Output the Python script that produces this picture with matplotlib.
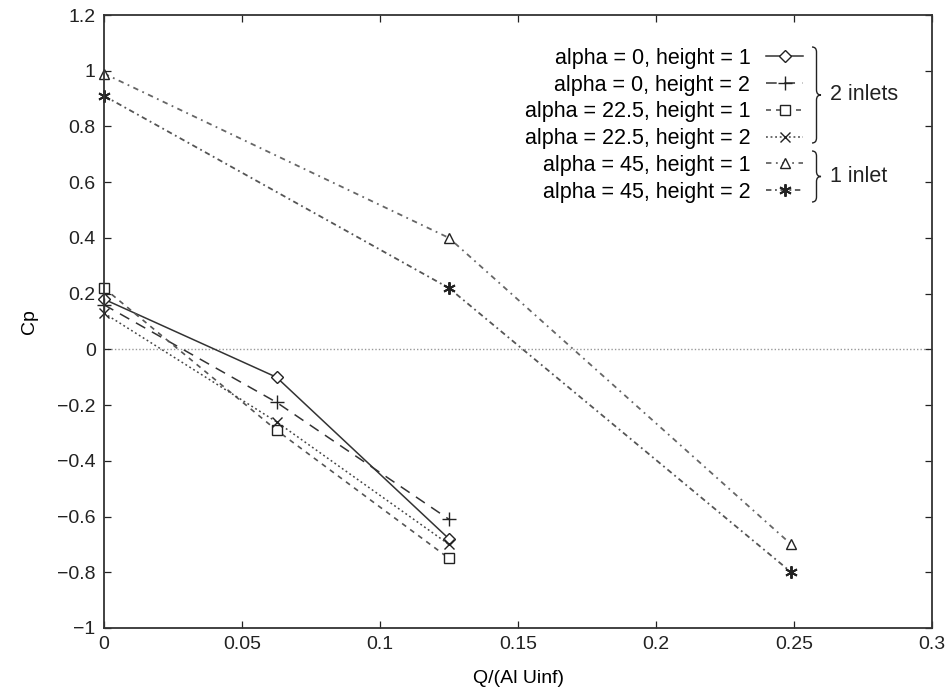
import numpy as np
import matplotlib
matplotlib.use('Agg')
import matplotlib.pyplot as plt
from matplotlib.path import Path
from matplotlib.patches import PathPatch
from matplotlib.ticker import FuncFormatter

plt.rcParams['font.family'] = ['Liberation Sans', 'DejaVu Sans']

# data
q_low = [0, 0.0625, 0.125]
q_high = [0, 0.125, 0.249]

cp_a0_h1 = [0.18, -0.10, -0.68]
cp_a0_h2 = [0.16, -0.19, -0.61]
cp_a22_h1 = [0.22, -0.29, -0.75]
cp_a22_h2 = [0.13, -0.26, -0.70]
cp_a45_h1 = [0.99, 0.40, -0.70]
cp_a45_h2 = [0.91, 0.22, -0.80]

labels = ['alpha = 0, height = 1', 'alpha = 0, height = 2',
          'alpha = 22.5, height = 1', 'alpha = 22.5, height = 2',
          'alpha = 45, height = 1', 'alpha = 45, height = 2']

W, H = 947, 691
fs = 14
lfs = 15.5
fig = plt.figure(figsize=(W / 100, H / 100), dpi=100)
ax = fig.add_axes([104 / W, 1 - 628 / H, (932 - 104) / W, (628 - 15) / H])

mk = dict(markerfacecolor='white', markeredgecolor='#222', markersize=7,
          markeredgewidth=1.0, clip_on=False)

ax.axhline(0, color='#999', lw=1.0, ls=(0, (1, 1.5)), zorder=1)

ax.plot(q_low, cp_a0_h1, color='#333', lw=1.1, ls='-', marker='D',
        label=labels[0], **dict(mk, markersize=6))
ax.plot(q_low, cp_a0_h2, color='#333', lw=1.1, ls=(0, (7, 5)), marker='+',
        label=labels[1], **dict(mk, markersize=10))
ax.plot(q_low, cp_a22_h1, color='#555', lw=1.2, ls=(0, (3, 3)), marker='s',
        label=labels[2], **mk)
ax.plot(q_low, cp_a22_h2, color='#444', lw=1.1, ls=(0, (1.2, 1.8)), marker='x',
        label=labels[3], **mk)
ax.plot(q_high, cp_a45_h1, color='#666', lw=1.3, ls=(0, (3, 2.5, 1, 2.5)), marker='^',
        label=labels[4], **mk)
ax.plot(q_high, cp_a45_h2, color='#555', lw=1.3, ls=(0, (3, 2, 1, 2)), marker=(6, 2, 0),
        label=labels[5], **dict(mk, markersize=9, markeredgewidth=1.4))

ax.set_xlim(0, 0.3)
ax.set_ylim(-1, 1.2)
ax.set_xticks(np.arange(0, 0.31, 0.05))
ax.set_yticks(np.arange(-1, 1.21, 0.2))
fmt = FuncFormatter(lambda v, p: f"{round(v, 3) + 0.0:g}".replace('-', '\u2212'))
ax.xaxis.set_major_formatter(fmt)
ax.yaxis.set_major_formatter(fmt)
ax.tick_params(direction='in', length=5, width=0.9, top=True, right=True,
               labelsize=fs, pad=6, colors='#222')
for s in ax.spines.values():
    s.set_linewidth(1.3)
    s.set_color('#333')

ax.set_xlabel('Q/(Al Uinf)', fontsize=fs, labelpad=12)
ax.set_ylabel('Cp', fontsize=fs, labelpad=14)

leg = ax.legend(loc='upper right', bbox_to_anchor=(803 / W, 1 - 48 / H),
                bbox_transform=fig.transFigure, frameon=False, markerfirst=False,
                fontsize=lfs, borderpad=0, borderaxespad=0, labelspacing=0.265,
                handlelength=1.7, handletextpad=0.75)


def brace(x0, y0, y1, w=9):
    # curly brace in figure pixels, y measured from top
    ym = (y0 + y1) / 2
    r = 5
    pts = [(x0, y0), (x0 + w / 2, y0), (x0 + w / 2, y0 + r),
           (x0 + w / 2, ym - r),
           (x0 + w / 2, ym), (x0 + w, ym),
           (x0 + w / 2, ym), (x0 + w / 2, ym + r),
           (x0 + w / 2, y1 - r),
           (x0 + w / 2, y1), (x0, y1)]
    codes = [Path.MOVETO, Path.CURVE3, Path.CURVE3, Path.LINETO,
             Path.CURVE3, Path.CURVE3, Path.CURVE3, Path.CURVE3,
             Path.LINETO, Path.CURVE3, Path.CURVE3]
    pts = [(x / W, 1 - y / H) for x, y in pts]
    fig.patches.append(PathPatch(Path(pts, codes), fc='none', ec='#222', lw=1.0,
                                 transform=fig.transFigure))


brace(812, 47, 143)
brace(812, 151, 202)
fig.text(830 / W, 1 - 95 / H, '2 inlets', fontsize=lfs, va='center', ha='left', color='#222')
fig.text(830 / W, 1 - 176 / H, '1 inlet', fontsize=lfs, va='center', ha='left', color='#222')

fig.savefig('out.png', dpi=100)
